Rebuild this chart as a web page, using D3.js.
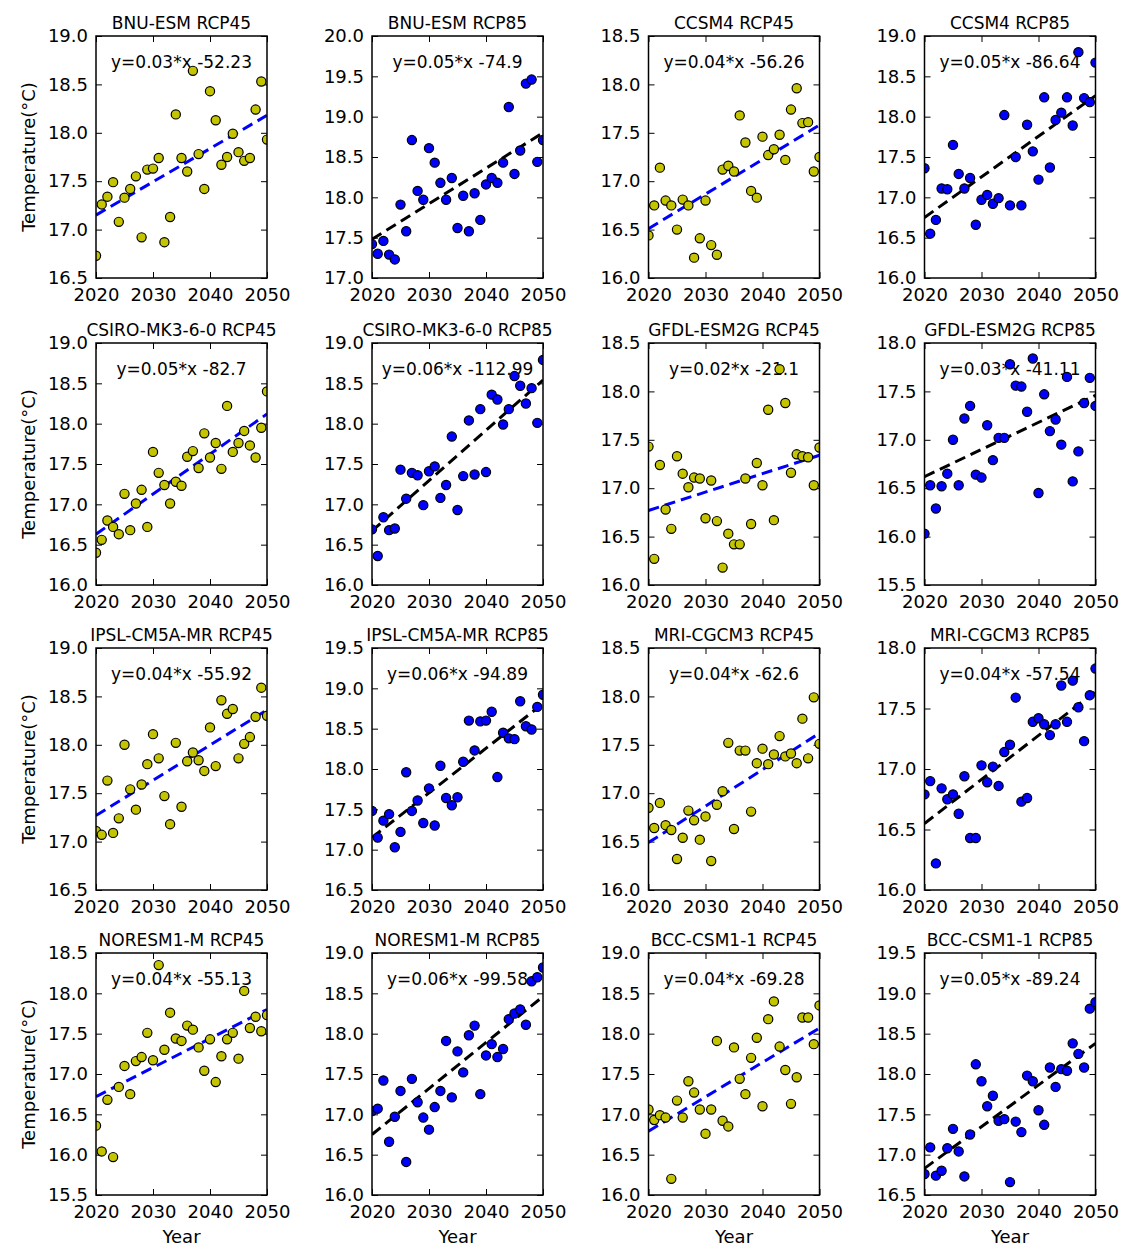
<!DOCTYPE html>
<html>
<head>
<meta charset="utf-8">
<script src="https://cdn.jsdelivr.net/npm/d3@7"></script>
<style>
  body { margin: 0; background: #fff; }
  text { font-family: "DejaVu Sans", sans-serif; fill: #000; }
</style>
</head>
<body>
<svg></svg>
<script>
// years on the x axis
const years = [2020, 2021, 2022, 2023, 2024, 2025, 2026, 2027, 2028, 2029, 2030,
  2031, 2032, 2033, 2034, 2035, 2036, 2037, 2038, 2039, 2040,
  2041, 2042, 2043, 2044, 2045, 2046, 2047, 2048, 2049, 2050];
const xTicks = [2020, 2030, 2040, 2050];

const titles = ['BNU-ESM RCP45', 'BNU-ESM RCP85', 'CCSM4 RCP45', 'CCSM4 RCP85',
  'CSIRO-MK3-6-0 RCP45', 'CSIRO-MK3-6-0 RCP85', 'GFDL-ESM2G RCP45', 'GFDL-ESM2G RCP85',
  'IPSL-CM5A-MR RCP45', 'IPSL-CM5A-MR RCP85', 'MRI-CGCM3 RCP45', 'MRI-CGCM3 RCP85',
  'NORESM1-M RCP45', 'NORESM1-M RCP85', 'BCC-CSM1-1 RCP45', 'BCC-CSM1-1 RCP85'];

const equations = ['y=0.03*x -52.23', 'y=0.05*x -74.9', 'y=0.04*x -56.26', 'y=0.05*x -86.64',
  'y=0.05*x -82.7', 'y=0.06*x -112.99', 'y=0.02*x -21.1', 'y=0.03*x -41.11',
  'y=0.04*x -55.92', 'y=0.06*x -94.89', 'y=0.04*x -62.6', 'y=0.04*x -57.54',
  'y=0.04*x -55.13', 'y=0.06*x -99.58', 'y=0.04*x -69.28', 'y=0.05*x -89.24'];

// y axis limits of each panel
const yMin = [16.5, 17.0, 16.0, 16.0, 16.0, 16.0, 16.0, 15.5, 16.5, 16.5, 16.0, 16.0, 15.5, 16.0, 16.0, 16.5];
const yMax = [19.0, 20.0, 18.5, 19.0, 19.0, 19.0, 18.5, 18.0, 19.0, 19.5, 18.5, 18.0, 18.5, 19.0, 19.0, 19.5];

// trend line value at 2020 and 2050
const trendStart = [17.15, 17.48, 16.51, 16.75, 16.63, 16.67, 16.77, 16.62, 17.27, 17.15, 16.49, 16.55, 16.72, 16.75, 16.79, 16.83];
const trendEnd   = [18.18, 18.80, 17.58, 18.26, 18.12, 18.54, 17.34, 17.46, 18.36, 18.81, 17.62, 17.64, 17.80, 18.46, 18.07, 18.38];

// annual temperatures (°C), 2020-2050
const bnu45 = [16.73, 17.26, 17.34, 17.49, 17.08, 17.33, 17.42, 17.55, 16.92, 17.62, 17.63, 17.74, 16.87, 17.13, 18.19, 17.74,
  17.60, 18.64, 17.78, 17.42, 18.43, 18.13, 17.67, 17.75, 17.99, 17.80, 17.71, 17.74, 18.24, 18.53, 17.93];
const bnu85 = [17.42, 17.30, 17.46, 17.29, 17.23, 17.91, 17.58, 18.71, 18.08, 17.97, 18.61, 18.43, 18.18, 17.97, 18.24, 17.62,
  18.02, 17.58, 18.05, 17.72, 18.16, 18.24, 18.18, 18.43, 19.12, 18.29, 18.58, 19.41, 19.46, 18.44, 18.71];
const ccsm45 = [16.44, 16.75, 17.14, 16.80, 16.75, 16.50, 16.81, 16.75, 16.21, 16.41, 16.80, 16.34, 16.24, 17.12, 17.16, 17.10,
  17.68, 17.40, 16.90, 16.83, 17.46, 17.27, 17.33, 17.48, 17.22, 17.74, 17.96, 17.60, 17.61, 17.10, 17.25];
const ccsm85 = [17.36, 16.55, 16.72, 17.11, 17.10, 17.65, 17.29, 17.11, 17.24, 16.66, 16.97, 17.03, 16.92, 16.99, 18.02, 16.90,
  17.50, 16.90, 17.90, 17.57, 17.22, 18.24, 17.37, 17.96, 18.05, 18.24, 17.89, 18.80, 18.23, 18.18, 18.67];
const csiro45 = [16.40, 16.56, 16.80, 16.72, 16.63, 17.13, 16.68, 17.01, 17.18, 16.72, 17.65, 17.39, 17.24, 17.01, 17.28, 17.23,
  17.59, 17.66, 17.45, 17.88, 17.58, 17.76, 17.44, 18.22, 17.65, 17.76, 17.91, 17.73, 17.58, 17.95, 18.40];
const csiro85 = [16.69, 16.36, 16.84, 16.68, 16.70, 17.43, 17.07, 17.39, 17.36, 16.99, 17.41, 17.47, 17.08, 17.24, 17.84, 16.93,
  17.35, 18.04, 17.37, 18.18, 17.40, 18.36, 18.30, 17.99, 18.18, 18.59, 18.47, 18.25, 18.44, 18.01, 18.79];
const gfdl45 = [17.43, 16.27, 17.24, 16.78, 16.58, 17.33, 17.15, 17.01, 17.11, 17.10, 16.69, 17.08, 16.66, 16.18, 16.53, 16.42,
  16.42, 17.10, 16.63, 17.26, 17.03, 17.81, 16.67, 18.23, 17.88, 17.16, 17.35, 17.33, 17.32, 17.03, 17.42];
const gfdl85 = [16.03, 16.53, 16.29, 16.52, 16.65, 17.00, 16.53, 17.22, 17.35, 16.64, 16.61, 17.15, 16.79, 17.02, 17.02, 17.78,
  17.56, 17.55, 17.29, 17.84, 16.45, 17.47, 17.09, 17.21, 16.95, 17.65, 16.57, 16.88, 17.38, 17.64, 17.35];
const ipsl45 = [17.11, 17.07, 17.63, 17.09, 17.24, 18.00, 17.54, 17.33, 17.59, 17.80, 18.11, 17.86, 17.47, 17.18, 18.02, 17.36,
  17.83, 17.92, 17.84, 17.73, 18.18, 17.78, 18.46, 18.32, 18.37, 17.86, 18.01, 18.08, 18.29, 18.59, 18.30];
const ipsl85 = [17.48, 17.15, 17.36, 17.44, 17.03, 17.22, 17.96, 17.48, 17.61, 17.33, 17.76, 17.30, 18.04, 17.64, 17.55, 17.65,
  18.09, 18.60, 18.23, 18.59, 18.60, 18.71, 17.90, 18.45, 18.38, 18.37, 18.84, 18.53, 18.49, 18.77, 18.92];
const mri45 = [16.85, 16.64, 16.90, 16.67, 16.62, 16.32, 16.54, 16.82, 16.72, 16.52, 16.76, 16.30, 16.88, 17.02, 17.52, 16.63,
  17.44, 17.44, 16.81, 17.31, 17.46, 17.30, 17.40, 17.59, 17.38, 17.41, 17.31, 17.77, 17.36, 17.99, 17.51];
const mri85 = [16.79, 16.90, 16.22, 16.84, 16.75, 16.79, 16.63, 16.94, 16.43, 16.43, 17.03, 16.89, 17.02, 16.86, 17.14, 17.20,
  17.59, 16.73, 16.76, 17.39, 17.42, 17.37, 17.28, 17.37, 17.69, 17.39, 17.73, 17.51, 17.23, 17.61, 17.83];
const noresm45 = [16.36, 16.04, 16.68, 15.97, 16.84, 17.10, 16.75, 17.16, 17.21, 17.51, 17.17, 18.35, 17.30, 17.76, 17.44, 17.41,
  17.60, 17.55, 17.33, 17.04, 17.43, 16.90, 17.22, 17.43, 17.51, 17.19, 18.03, 17.57, 17.71, 17.53, 17.73];
const noresm85 = [17.04, 17.07, 17.42, 16.66, 16.97, 17.29, 16.41, 17.44, 17.15, 16.96, 16.81, 17.09, 17.29, 17.91, 17.21, 17.78,
  17.52, 17.98, 18.10, 17.25, 17.73, 17.87, 17.71, 17.81, 18.18, 18.25, 18.30, 18.11, 18.65, 18.70, 18.82];
const bcc45 = [17.06, 16.93, 16.99, 16.96, 16.20, 17.17, 16.96, 17.41, 17.27, 17.06, 16.76, 17.06, 17.91, 16.92, 16.85, 17.83,
  17.44, 17.25, 17.70, 17.95, 17.10, 18.18, 18.40, 17.84, 17.55, 17.13, 17.46, 18.20, 18.20, 17.87, 18.35];
const bcc85 = [16.76, 17.09, 16.74, 16.80, 17.08, 17.32, 17.04, 16.73, 17.25, 18.12, 17.91, 17.60, 17.73, 17.42, 17.44, 16.66,
  17.41, 17.28, 17.98, 17.91, 17.55, 17.37, 18.08, 17.84, 18.06, 18.04, 18.38, 18.25, 18.08, 18.81, 18.89];

const series = [bnu45, bnu85, ccsm45, ccsm85, csiro45, csiro85, gfdl45, gfdl85,
  ipsl45, ipsl85, mri45, mri85, noresm45, noresm85, bcc45, bcc85];

const svg = d3.select('svg').attr('width', 1123).attr('height', 1249);

const plotW = 171, plotH = 242;
const colX = [96, 372, 648.5, 924.5];
const rowY = [36, 343, 648, 953];
const tick = 6;

series.forEach((vals, i) => {
  const col = i % 4, row = Math.floor(i / 4);
  const rcp45 = i % 2 === 0;
  const dotFill = rcp45 ? '#c4c400' : '#0000ff';
  const lineColor = rcp45 ? '#0000ff' : '#000000';

  const x = d3.scaleLinear().domain([2020, 2050]).range([0, plotW]);
  const y = d3.scaleLinear().domain([yMin[i], yMax[i]]).range([plotH, 0]);
  const yTicks = d3.range(yMin[i], yMax[i] + 0.01, 0.5);

  const g = svg.append('g').attr('transform', `translate(${colX[col]},${rowY[row]})`);

  g.append('clipPath').attr('id', 'clip' + i)
    .append('rect').attr('width', plotW).attr('height', plotH);

  // ticks on all four sides, pointing inward
  const axes = [
    d3.axisLeft(y).tickValues(yTicks).tickSize(-tick).tickPadding(8).tickFormat(d3.format('.1f')),
    d3.axisRight(y).tickValues(yTicks).tickSize(-tick).tickFormat(''),
    d3.axisBottom(x).tickValues(xTicks).tickSize(-tick).tickPadding(10).tickFormat(d3.format('d')),
    d3.axisTop(x).tickValues(xTicks).tickSize(-tick).tickFormat('')
  ];
  const shifts = ['translate(0,0)', `translate(${plotW},0)`, `translate(0,${plotH})`, 'translate(0,0)'];
  axes.forEach((ax, k) => {
    const a = g.append('g').attr('transform', shifts[k]).call(ax);
    a.select('.domain').remove();
    a.selectAll('line').attr('stroke', '#000').attr('stroke-width', 1);
    a.selectAll('text').attr('font-size', 18).attr('font-family', '"DejaVu Sans", sans-serif').attr('fill', '#000');
  });

  g.append('text')
    .attr('x', plotW / 2).attr('y', 32)
    .attr('text-anchor', 'middle').attr('font-size', 17)
    .text(equations[i]);

  const plot = g.append('g').attr('clip-path', `url(#clip${i})`);

  const line = d3.line().x(d => x(d[0])).y(d => y(d[1]));
  plot.append('path')
    .datum([[2020, trendStart[i]], [2050, trendEnd[i]]])
    .attr('d', line)
    .attr('fill', 'none')
    .attr('stroke', lineColor)
    .attr('stroke-width', 3)
    .attr('stroke-dasharray', '11,6');

  plot.selectAll('circle').data(vals).enter().append('circle')
    .attr('cx', (d, j) => x(years[j]))
    .attr('cy', d => y(d))
    .attr('r', 4.6)
    .attr('fill', dotFill)
    .attr('stroke', '#000')
    .attr('stroke-width', 1.2);

  g.append('rect')
    .attr('width', plotW).attr('height', plotH)
    .attr('fill', 'none').attr('stroke', '#000').attr('stroke-width', 1.5);

  g.append('text')
    .attr('x', plotW / 2).attr('y', -7)
    .attr('text-anchor', 'middle').attr('font-size', 17)
    .text(titles[i]);

  if (col === 0) {
    svg.append('text')
      .attr('transform', `translate(34.5,${rowY[row] + plotH / 2}) rotate(-90)`)
      .attr('text-anchor', 'middle').attr('font-size', 18)
      .text('Temperature(°C)');
  }
  if (row === 3) {
    g.append('text')
      .attr('x', plotW / 2).attr('y', plotH + 48)
      .attr('text-anchor', 'middle').attr('font-size', 18)
      .text('Year');
  }
});
</script>
</body>
</html>
